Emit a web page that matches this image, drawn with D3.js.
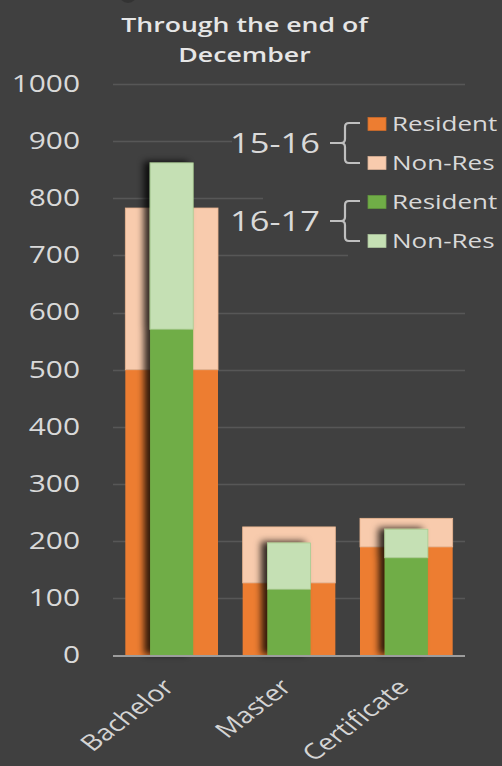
<!DOCTYPE html>
<html>
<head>
<meta charset="utf-8">
<script src="https://cdn.jsdelivr.net/npm/d3@7"></script>
<style>
  html, body { margin: 0; padding: 0; background: #404040; }
  svg { display: block; }
  text { font-family: "Open Sans", "Noto Sans", sans-serif; }
</style>
</head>
<body>
<script>
// ---- data ----
const categories = ["Bachelor", "Master", "Certificate"];
const resident1516 = [500, 127, 190];
const nonRes1516   = [283, 98, 50];
const resident1617 = [571, 116, 171];
const nonRes1617   = [291, 81, 50];
const yTicks = [0, 100, 200, 300, 400, 500, 600, 700, 800, 900, 1000];
const titleLines = ["Through the end of", "December"];
const legendGroups = [
  { year: "15-16", items: [{ label: "Resident", color: "#ed7d31" }, { label: "Non-Res", color: "#f8cbad" }] },
  { year: "16-17", items: [{ label: "Resident", color: "#70ad47" }, { label: "Non-Res", color: "#c5e0b4" }] }
];

// ---- layout ----
const W = 502, H = 766;
const SX = 1.3;               // horizontal stretch of the reference's text
const BG = "#404040";
const TEXT = "#d9d9d9";

const svg = d3.select("body").append("svg").attr("width", W).attr("height", H);
svg.append("rect").attr("width", W).attr("height", H).attr("fill", BG);

const defs = svg.append("defs");
const f = defs.append("filter").attr("id", "shadow")
  .attr("x", "-40%").attr("y", "-10%").attr("width", "160%").attr("height", "120%");
f.append("feDropShadow").attr("dx", -6).attr("dy", -1).attr("stdDeviation", 3.5)
  .attr("flood-color", "#000").attr("flood-opacity", 0.8);

// small artifact at top
svg.append("circle").attr("cx", 128).attr("cy", -6).attr("r", 9).attr("fill", "#333");

const x = d3.scaleBand().domain(categories).range([113, 465]).paddingInner(0.21).paddingOuter(0.105);
const y = d3.scaleLinear().domain([0, 1000]).range([655.5, 84]);

// gridlines
svg.append("g").selectAll("line").data(yTicks.filter(d => d > 0)).join("line")
  .attr("x1", 113).attr("x2", 465)
  .attr("y1", d => Math.round(y(d)) + 0.5).attr("y2", d => Math.round(y(d)) + 0.5)
  .attr("stroke", "#575757").attr("stroke-width", 1.3);

// title
svg.append("g").selectAll("text").data(titleLines).join("text")
  .attr("transform", (d, i) => `translate(244.5,${32 + i * 30}) scale(${SX},1)`)
  .attr("text-anchor", "middle").attr("font-size", 20.5).attr("font-weight", 600)
  .attr("fill", "#e6e6e6").text(d => d);

// y axis
const yAxis = svg.append("g").attr("transform", "translate(80,0)")
  .call(d3.axisLeft(y).tickValues(yTicks).tickFormat(d3.format("d")).tickSize(0).tickPadding(0));
yAxis.select(".domain").remove();
yAxis.selectAll("text").attr("x", 0).attr("transform", `scale(${SX},1)`)
  .attr("font-size", 23).attr("fill", TEXT).attr("font-family", null);

// bars
const bw = x.bandwidth();
const gw = bw * 0.465;
const orange = svg.append("g");
categories.forEach((c, i) => {
  orange.append("rect").attr("x", x(c)).attr("width", bw)
    .attr("y", y(resident1516[i])).attr("height", y(0) - y(resident1516[i]))
    .attr("fill", "#ed7d31");
  orange.append("rect").attr("x", x(c)).attr("width", bw)
    .attr("y", y(resident1516[i] + nonRes1516[i])).attr("height", y(resident1516[i]) - y(resident1516[i] + nonRes1516[i]))
    .attr("fill", "#f8cbad").attr("stroke", "#e9b590").attr("stroke-width", 0.8);
});
const green = svg.append("g");
categories.forEach((c, i) => {
  const gx = x(c) + (bw - gw) / 2;
  const g = green.append("g").attr("filter", "url(#shadow)");
  g.append("rect").attr("x", gx).attr("width", gw)
    .attr("y", y(resident1617[i])).attr("height", y(0) - y(resident1617[i]))
    .attr("fill", "#70ad47");
  g.append("rect").attr("x", gx).attr("width", gw)
    .attr("y", y(resident1617[i] + nonRes1617[i])).attr("height", y(resident1617[i]) - y(resident1617[i] + nonRes1617[i]))
    .attr("fill", "#c5e0b4").attr("stroke", "#a9cc92").attr("stroke-width", 0.8);
});

// baseline
svg.append("line").attr("x1", 113).attr("x2", 465)
  .attr("y1", y(0) + 0.5).attr("y2", y(0) + 0.5)
  .attr("stroke", "#9d9d9d").attr("stroke-width", 2);

// x axis
const xAxis = svg.append("g").attr("transform", `translate(0,${y(0)})`)
  .call(d3.axisBottom(x).tickSize(0).tickPadding(0));
xAxis.select(".domain").remove();
xAxis.selectAll("text").attr("y", 0).attr("dy", 0)
  .attr("transform", `translate(4,33) scale(${SX},1) rotate(-45)`)
  .attr("text-anchor", "end").attr("font-size", 22).attr("fill", "#d4d4d4").attr("font-family", null);

// legend
const leg = svg.append("g");
// text boxes that hide gridlines
leg.append("rect").attr("x", 232).attr("y", 115).attr("width", 270).attr("height", 55).attr("fill", BG);
leg.append("rect").attr("x", 263).attr("y", 170).attr("width", 239).attr("height", 35).attr("fill", BG);
leg.append("rect").attr("x", 348).attr("y", 205).attr("width", 154).attr("height", 55).attr("fill", BG);

legendGroups.forEach((grp, gi) => {
  const mid = gi === 0 ? 143 : 221;
  const gg = leg.append("g").attr("transform", `translate(0,${mid})`);
  gg.append("text").attr("transform", `translate(230,0) scale(${SX},1)`)
    .attr("dy", "0.36em").attr("font-size", 26.5).attr("fill", TEXT).text(grp.year);
  gg.append("path")
    .attr("d", "M360,-20 H349 Q345,-20 345,-16 V-4 Q345,0 341,0 H330 M341,0 Q345,0 345,4 V16 Q345,20 349,20 H360")
    .attr("fill", "none").attr("stroke", "#bfbfbf").attr("stroke-width", 2.2);
  grp.items.forEach((it, ii) => {
    const cy = ii === 0 ? -19 : 20;
    gg.append("rect").attr("x", 368).attr("y", cy - 6.5).attr("width", 18).attr("height", 13)
      .attr("fill", it.color).attr("stroke", d3.color(it.color).darker(0.4)).attr("stroke-width", 0.8);
    gg.append("text").attr("transform", `translate(392,${cy}) scale(${SX},1)`)
      .attr("dy", "0.36em").attr("font-size", 20).attr("fill", TEXT).text(it.label);
  });
});
</script>
</body>
</html>
